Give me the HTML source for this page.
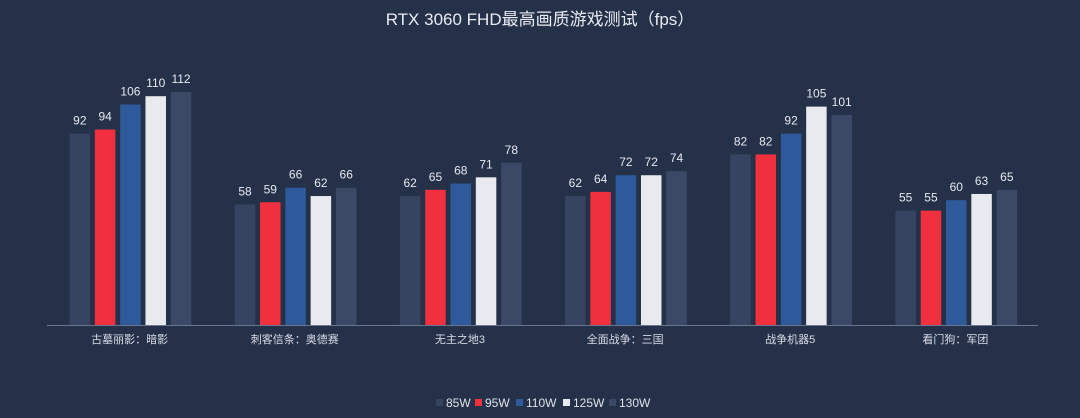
<!DOCTYPE html>
<html><head><meta charset="utf-8"><style>
html,body{margin:0;padding:0;background:#253149;}
svg{display:block;font-family:"Liberation Sans","Noto Sans CJK SC",sans-serif;}
</style></head><body>
<svg id="chart" width="1080" height="418" viewBox="0 0 1080 418">
<rect width="1080" height="418" fill="#253149"/>
<text x="540" y="25" text-anchor="middle" font-size="17" fill="#e8ebf2">RTX 3060 FHD最高画质游戏测试（fps）</text>
<line x1="47" y1="325.5" x2="1038" y2="325.5" stroke="#6a7690" stroke-width="1"/>
<g id="bars"></g>
<g id="legend"></g>
</svg>
<script>
const categories=["古墓丽影：暗影","刺客信条：奥德赛","无主之地3","全面战争：三国","战争机器5","看门狗：军团"];
const seriesNames=["85W","95W","110W","125W","130W"];
const s85=[92,58,62,62,82,55];
const s95=[94,59,65,64,82,55];
const s110=[106,66,68,72,92,60];
const s125=[110,62,71,72,105,63];
const s130=[112,66,78,74,101,65];
const series=[s85,s95,s110,s125,s130];
const colors=["#374461","#f0303f","#2e5a9c","#e8eaef","#3b4866"];
const NS="http://www.w3.org/2000/svg";
const x0=47,x1=1038,base=325,pxPer=2.08;
const groupW=(x1-x0)/categories.length;
function xCenter(i){return x0+groupW*(i+0.5);}
function y(v){return base-v*pxPer;}
const g=document.getElementById('bars');
categories.forEach((c,i)=>{
  const cx=xCenter(i);
  series.forEach((s,k)=>{
    const bx=cx-60+k*25.3;
    const r=document.createElementNS(NS,'rect');
    r.setAttribute('x',bx);r.setAttribute('y',y(s[i]));
    r.setAttribute('width',20.5);r.setAttribute('height',base-y(s[i]));
    r.setAttribute('fill',colors[k]);
    
    
    g.appendChild(r);
    const t=document.createElementNS(NS,'text');
    t.setAttribute('x',bx+10.25);t.setAttribute('y',y(s[i])-9);
    t.setAttribute('text-anchor','middle');t.setAttribute('font-size','12');t.setAttribute('fill','#e6e9f0');
    t.textContent=s[i];
    
    
    g.appendChild(t);
  });
  const lt=document.createElementNS(NS,'text');
  lt.setAttribute('x',cx);lt.setAttribute('y',343);
  lt.setAttribute('text-anchor','middle');lt.setAttribute('font-size','11');lt.setAttribute('fill','#d8dce6');
  lt.textContent=c;
  
  
  g.appendChild(lt);
});
const lg=document.getElementById('legend');
const lx=[436,475,516,563,609];
seriesNames.forEach((n,k)=>{
  const r=document.createElementNS(NS,'rect');
  r.setAttribute('x',lx[k]);r.setAttribute('y',399);r.setAttribute('width',7);r.setAttribute('height',7);
  r.setAttribute('fill',colors[k]);
  
  
  lg.appendChild(r);
  const t=document.createElementNS(NS,'text');
  t.setAttribute('x',lx[k]+10);t.setAttribute('y',407);t.setAttribute('font-size','12');t.setAttribute('fill','#dfe3ea');
  t.textContent=n;
  
  
  lg.appendChild(t);
});
</script>
</body></html>
